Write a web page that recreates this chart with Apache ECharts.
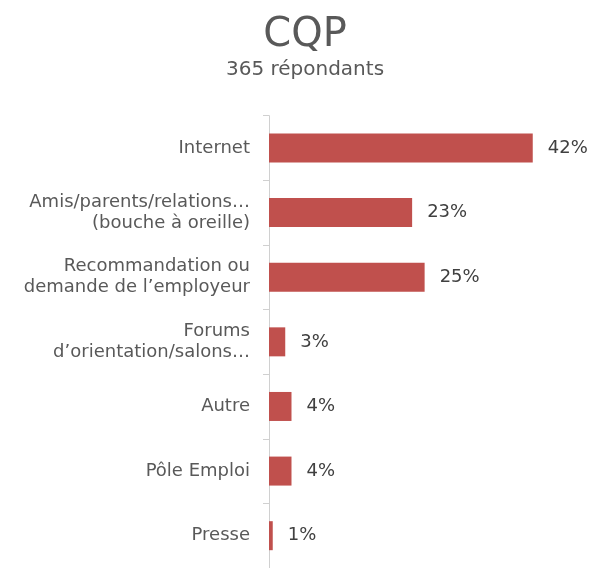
<!DOCTYPE html>
<html>
<head>
<meta charset="utf-8">
<script src="https://cdn.jsdelivr.net/npm/echarts@6/dist/echarts.min.js"></script>
<style>
  html, body { margin: 0; padding: 0; background: #fff; }
  #chart { width: 589px; height: 568px; }
</style>
</head>
<body>
<div id="chart"></div>
<script>
// categories and values (share of respondents, %)
var categories = [
  'Internet',
  'Amis/parents/relations\u2026\n(bouche \u00e0 oreille)',
  'Recommandation ou\ndemande de l\u2019employeur',
  'Forums\nd\u2019orientation/salons\u2026',
  'Autre',
  'P\u00f4le Emploi',
  'Presse'
];
var values = [42.2, 22.9, 24.9, 2.6, 3.6, 3.6, 0.6];

var chartTitle = 'CQP';
var chartSubtitle = '365 r\u00e9pondants';

var myChart = echarts.init(document.getElementById('chart'));
var option = {
  animation: false,
  textStyle: { fontFamily: 'DejaVu Sans' },
  title: {
    text: chartTitle,
    subtext: chartSubtitle,
    left: 300,
    textAlign: 'center',
    top: 11,
    itemGap: 4,
    textStyle: { fontSize: 40, fontWeight: 'normal', color: '#595959', fontFamily: 'DejaVu Sans' },
    subtextStyle: { fontSize: 20, color: '#595959', fontFamily: 'DejaVu Sans' }
  },
  grid: {
    left: 269,
    top: 115.7,
    height: 457,
    right: 7.5
  },
  xAxis: {
    type: 'value',
    min: 0,
    max: 50,
    show: false
  },
  yAxis: {
    type: 'category',
    inverse: true,
    data: categories,
    axisLine: { show: true, lineStyle: { color: '#D0D0D0', width: 1 } },
    axisTick: { show: true, length: 6, lineStyle: { color: '#D0D0D0' } },
    axisLabel: {
      margin: 19,
      fontSize: 18,
      lineHeight: 21,
      color: '#595959',
      align: 'right'
    }
  },
  series: [
    {
      type: 'bar',
      data: values,
      barWidth: 29,
      itemStyle: { color: '#C0504D' },
      label: {
        show: true,
        position: 'right',
        distance: 15,
        fontSize: 18,
        color: '#404040',
        formatter: function (p) { return Math.round(p.value) + '%'; }
      }
    }
  ]
};
myChart.setOption(option);
</script>
</body>
</html>
